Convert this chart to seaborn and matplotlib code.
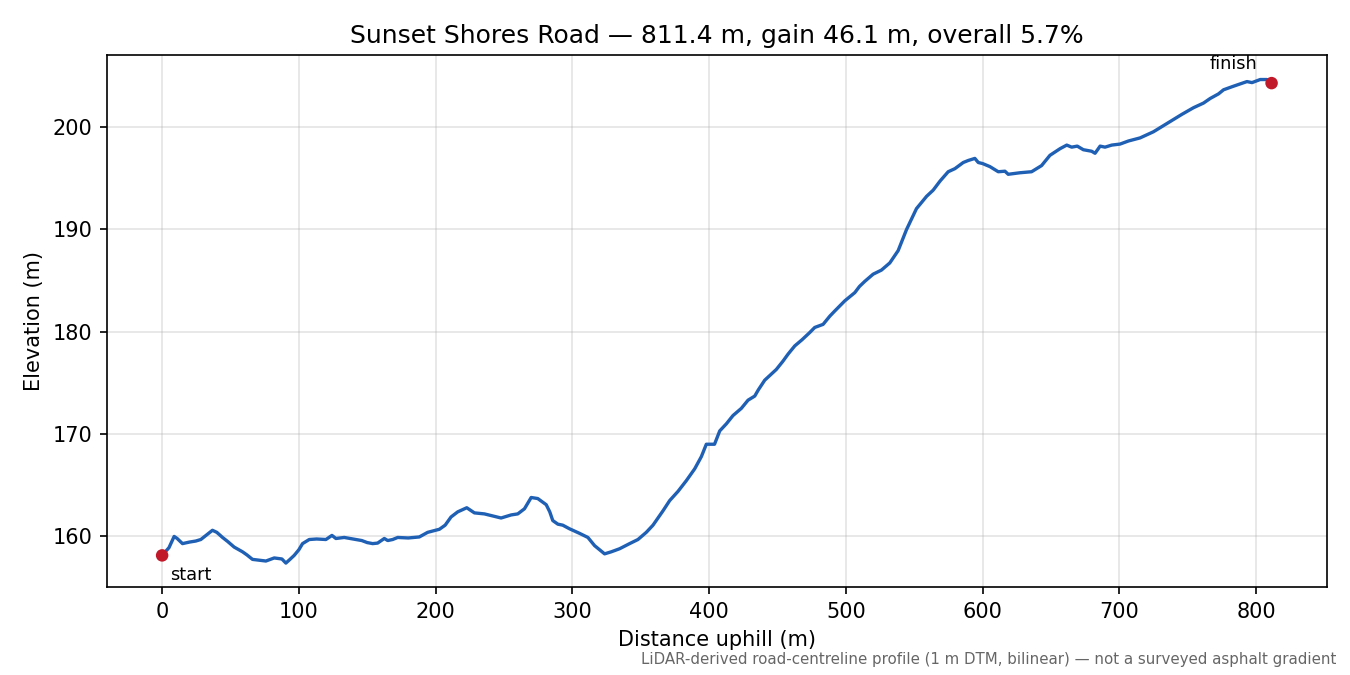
import matplotlib

matplotlib.use("Agg")
import matplotlib.pyplot as plt
import seaborn as sns
import pandas as pd

# profile (distance uphill m, elevation m)
distance = [
    0, 5, 8.8, 11, 14.9, 20, 24.6, 28.3, 33, 36.8, 40, 44.2, 48, 52.7, 58.8, 62,
    66.1, 75.9, 79, 82, 87.6, 90.5, 93, 96.6, 100, 102.7, 107.6, 113, 119.8,
    124.2, 127.1, 133.2, 141.8, 146, 150, 154, 157.6, 162.5, 165, 168.6, 172.3,
    180, 188.1, 194.2, 202.8, 207, 211.3, 216.2, 222.8, 228.4, 235.7, 241.8,
    247.9, 255.3, 260.1, 265, 269.9, 274.7, 280.9, 283.5, 285.7, 289.4, 293,
    297.9, 305.3, 311.4, 316.3, 323.6, 328.5, 334.6, 341.9, 348, 354.1, 359,
    366.3, 371.2, 377.3, 383.4, 389.5, 394.4, 398, 404, 407.8, 412.7, 417.5,
    423.6, 428.5, 433.4, 436, 440.7, 449.2, 454, 457.8, 462.7, 468, 473.6,
    477.3, 483.4, 488.3, 491.9, 499.3, 506.6, 510, 513.9, 520, 526.1, 532.2,
    538.3, 544.4, 551.7, 559.1, 563.9, 569, 574.9, 579.8, 585.9, 589.6, 594.4,
    596.9, 600, 605.4, 611.5, 616.4, 618.8, 627.4, 635.9, 643.2, 649.3, 656.7,
    661.6, 665.2, 669.3, 673.7, 679.8, 682.3, 686, 689.6, 694.5, 700.6, 706.7,
    715.2, 725, 734.8, 745.8, 754.3, 761.6, 766.5, 772.6, 776.3, 783.6, 793.4,
    797.1, 803.1, 808, 811.4,
]
elevation = [
    158.15, 158.9, 160.0, 159.8, 159.3, 159.45, 159.55, 159.7, 160.2, 160.6,
    160.4, 159.9, 159.5, 158.96, 158.5, 158.2, 157.76, 157.6, 157.75, 157.9,
    157.8, 157.4, 157.7, 158.15, 158.7, 159.3, 159.7, 159.75, 159.7, 160.1,
    159.8, 159.9, 159.7, 159.6, 159.4, 159.3, 159.35, 159.8, 159.6, 159.7,
    159.9, 159.85, 159.95, 160.4, 160.7, 161.1, 161.9, 162.4, 162.8, 162.3,
    162.2, 162.0, 161.8, 162.1, 162.2, 162.7, 163.8, 163.7, 163.1, 162.4,
    161.55, 161.2, 161.1, 160.75, 160.3, 159.9, 159.1, 158.3, 158.5, 158.8,
    159.3, 159.7, 160.4, 161.1, 162.5, 163.5, 164.4, 165.45, 166.6, 167.8,
    169.0, 169.0, 170.3, 171.0, 171.8, 172.5, 173.3, 173.7, 174.3, 175.25,
    176.3, 177.1, 177.8, 178.6, 179.2, 179.9, 180.4, 180.7, 181.5, 182.0,
    183.0, 183.8, 184.4, 184.9, 185.6, 186.0, 186.7, 187.9, 189.95, 192.0,
    193.2, 193.8, 194.7, 195.6, 195.9, 196.5, 196.7, 196.9, 196.5, 196.4,
    196.1, 195.6, 195.65, 195.35, 195.5, 195.6, 196.2, 197.2, 197.85, 198.2,
    198.0, 198.1, 197.75, 197.6, 197.4, 198.1, 198.0, 198.2, 198.3, 198.6,
    198.9, 199.5, 200.3, 201.2, 201.85, 202.3, 202.75, 203.2, 203.6, 203.95,
    204.4, 204.3, 204.6, 204.6, 204.25,
]

road = "Sunset Shores Road"
length_m = 811.4
gain_m = 46.1
grade_pct = 5.7
note = "LiDAR-derived road-centreline profile (1 m DTM, bilinear) \u2014 not a surveyed asphalt gradient"

LINE = "#1f5fb4"
DOT = "#c1192a"


def main():
    sns.set_style("ticks", {
        "axes.edgecolor": "black",
        "text.color": "black",
        "axes.labelcolor": "black",
        "xtick.color": "black",
        "ytick.color": "black",
    })
    plt.rcParams["font.family"] = ["DejaVu Sans"]

    df = pd.DataFrame({"distance": distance, "elevation": elevation})

    fig, ax = plt.subplots(figsize=(9, 4.5), dpi=150)
    fig.subplots_adjust(left=0.079, right=0.983, top=0.918, bottom=0.130)

    sns.lineplot(data=df, x="distance", y="elevation", ax=ax, color=LINE,
                 linewidth=1.6, sort=False, estimator=None)

    ends = df.iloc[[0, -1]]
    sns.scatterplot(data=ends, x="distance", y="elevation", ax=ax, color=DOT,
                    s=36, edgecolor="none", zorder=5)

    ax.annotate("start", (ends["distance"].iloc[0], ends["elevation"].iloc[0]),
                xytext=(4, -5), textcoords="offset points", ha="left", va="top",
                fontsize=8.5)
    ax.annotate("finish", (ends["distance"].iloc[1], ends["elevation"].iloc[1]),
                xytext=(-7, 5), textcoords="offset points", ha="right", va="bottom",
                fontsize=8.5)

    ax.grid(True, color="#b0b0b0", alpha=0.35, linewidth=0.8)

    ax.set_title(f"{road} \u2014 {length_m:.1f} m, gain {gain_m:.1f} m, overall {grade_pct:.1f}%",
                 fontsize=12)
    ax.set_xlabel("Distance uphill (m)", fontsize=10)
    ax.set_ylabel("Elevation (m)", fontsize=10)
    ax.tick_params(labelsize=10)

    fig.text(0.99, 0.012, note, ha="right", va="bottom", fontsize=7.2, color="#666666")

    fig.savefig("out.png", dpi=150)
    plt.close(fig)


if __name__ == "__main__":
    main()
